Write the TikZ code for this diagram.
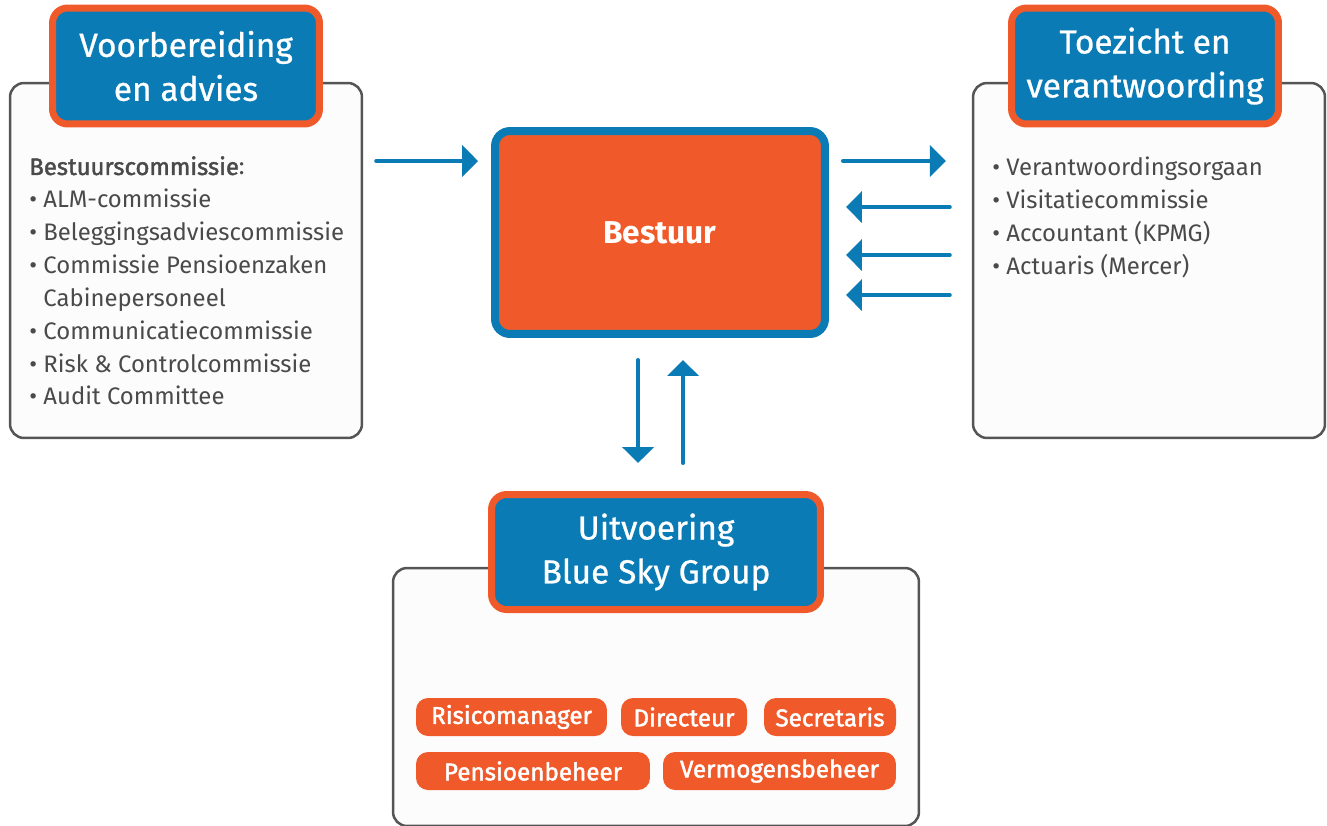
\documentclass[tikz,border=0pt]{standalone}
\usepackage{fontspec}
\setmainfont{Fira Sans}
\newfontfamily\medium[FakeBold=0.8]{Fira Sans}
\newfontfamily\semibold[FakeBold=1.8]{Fira Sans}
\usetikzlibrary{positioning,arrows.meta}
\definecolor{bsblue}{HTML}{0B7BB5}
\definecolor{bsorange}{HTML}{F05A2A}
\definecolor{bsgray}{HTML}{555555}
\definecolor{bstext}{HTML}{4A4A4A}

\begin{document}
\begin{tikzpicture}[
  x=0.02cm, y=-0.02cm,
  panel/.style={rectangle, rounded corners=0.28cm, draw=bsgray, line width=0.05cm, fill=black!1,
                minimum width=7.04cm, minimum height=7.1cm, inner sep=0pt},
  head/.style={rectangle, rounded corners=0.3cm, draw=bsorange, line width=0.14cm, fill=bsblue,
               text=white, align=center, minimum width=5.34cm, minimum height=2.32cm, inner sep=0pt,
               font=\fontsize{19}{25}\selectfont\medium},
  core/.style={rectangle, rounded corners=0.3cm, draw=bsblue, line width=0.16cm, fill=bsorange,
               text=white, minimum width=6.6cm, minimum height=4.06cm, font=\fontsize{18}{22}\selectfont\bfseries},
  pill/.style={rectangle, rounded corners=0.24cm, fill=bsorange, text=white, minimum height=0.76cm,
               inner sep=0pt, font=\fontsize{13.8}{16}\selectfont\semibold},
  items/.style={anchor=north west, inner sep=0pt, align=left, text=bstext, font=\fontsize{13.6}{18.7}\selectfont},
  arr/.style={draw=bsblue, line width=0.08cm, line cap=round, -{Triangle[length=0.32cm,width=0.62cm]}}
]
\useasboundingbox (0,0) rectangle (1327,825);

% panels
\node[panel] (lbox) at (186,260.5) {};
\node[panel] (rbox) at (1149,260.5) {};
\node[panel, minimum width=10.52cm, minimum height=5.16cm] (ubox) at (656,697) {};

\node[head] (lhead) at (186,66) {Voorbereiding\\en advies};
\node[head] (rhead) at (1145,66) {Toezicht en\\verantwoording};
\node[head, minimum width=6.58cm, minimum height=2.3cm] (uhead) at (656,552) {Uitvoering\\Blue Sky Group};

\node[core] (best) at (660,232.5) {Bestuur};

% lists
\node[items] (llist) at (29,156) {{\semibold Bestuurscommissie}:\\
  \textbullet\ ALM-commissie\\
  \textbullet\ Beleggingsadviescommissie\\
  \textbullet\ Commissie Pensioenzaken\\
  \hphantom{\textbullet\ }Cabinepersoneel\\
  \textbullet\ Communicatiecommissie\\
  \textbullet\ Risk \& Controlcommissie\\
  \textbullet\ Audit Committee};
\node[items] (rlist) at (992,157) {\textbullet\ Verantwoordingsorgaan\\
  \textbullet\ Visitatiecommissie\\
  \textbullet\ Accountant (KPMG)\\
  \textbullet\ Actuaris (Mercer)};

% uitvoering
\node[pill, minimum width=3.82cm] (risk) at (511.5,717) {Risicomanager};
\node[pill, minimum width=2.52cm] (dir)  at (684,717)   {Directeur};
\node[pill, minimum width=2.64cm] (secr) at (830,717)   {Secretaris};
\node[pill, minimum width=4.68cm] (pens) at (533,771)   {Pensioenbeheer};
\node[pill, minimum width=4.66cm] (verm) at (779.5,771) {Vermogensbeheer};

% arrows
\draw[arr, shorten <=0.26cm, shorten >=0.26cm] (lbox.east |- 0,161) -- (best.west |- 0,161);
\draw[arr, shorten <=0.28cm, shorten >=0.52cm] (best.east |- 0,161) -- (rbox.west |- 0,161);
\foreach \yy in {207,255,295}
  \draw[arr, shorten <=0.44cm, shorten >=0.34cm] (rbox.west |- 0,\yy) -- (best.east |- 0,\yy);
\draw[arr, shorten <=0.44cm, shorten >=0.56cm] (best.south -| 638,0) -- (uhead.north -| 638,0);
\draw[arr, shorten <=0.56cm, shorten >=0.44cm] (uhead.north -| 683,0) -- (best.south -| 683,0);
\end{tikzpicture}
\end{document}
